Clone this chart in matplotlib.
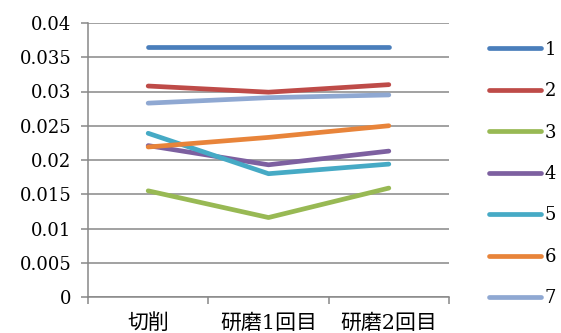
import matplotlib
matplotlib.use("Agg")
import matplotlib.pyplot as plt
from matplotlib.ticker import FixedLocator

categories = ["切削", "研磨1回目", "研磨2回目"]
series_names = ["1", "2", "3", "4", "5", "6", "7"]
s1 = [0.0365, 0.0365, 0.0365]
s2 = [0.0308, 0.0299, 0.0310]
s3 = [0.0155, 0.0116, 0.0159]
s4 = [0.0221, 0.0193, 0.0213]
s5 = [0.0239, 0.0180, 0.0194]
s6 = [0.0219, 0.0233, 0.0250]
s7 = [0.0283, 0.0291, 0.0295]
series = [s1, s2, s3, s4, s5, s6, s7]
colors = ["#4A7EBB", "#BE4B48", "#98B954", "#7D60A0", "#46AAC5", "#E8843A", "#8FA8D2"]
yticks = [0, 0.005, 0.01, 0.015, 0.02, 0.025, 0.03, 0.035, 0.04]
ytick_labels = ["0", "0.005", "0.01", "0.015", "0.02", "0.025", "0.03", "0.035", "0.04"]

plt.rcParams['font.family'] = ['DejaVu Serif', 'Noto Sans CJK JP']

fig = plt.figure(figsize=(5.61, 3.33), dpi=100)
ax = fig.add_axes([88/561, 1-297/333, (449-88)/561, (297-23)/333])

x = list(range(len(categories)))
for name, vals, c in zip(series_names, series, colors):
    ax.plot(x, vals, color=c, lw=3.4, solid_capstyle='round', label=name)

gray = "#888888"
ax.set_xlim(-0.5, 2.5)
ax.set_ylim(0, 0.04)
ax.set_yticks(yticks)
ax.set_yticklabels(ytick_labels, fontsize=13)
ax.yaxis.grid(True, color=gray, lw=1.1)
ax.set_axisbelow(True)
ax.set_xticks(x)
ax.set_xticklabels(categories, fontsize=15, family=['DejaVu Serif', 'Noto Sans CJK JP'])
ax.xaxis.set_minor_locator(FixedLocator([-0.5, 0.5, 1.5, 2.5]))
ax.tick_params(axis='x', which='major', length=0, pad=12)
ax.tick_params(axis='x', which='minor', length=5, color=gray, width=1.1)
ax.tick_params(axis='y', which='major', length=5, color=gray, width=1.1, pad=7)
for sp in ['top', 'right']:
    ax.spines[sp].set_visible(False)
for sp in ['left', 'bottom']:
    ax.spines[sp].set_color(gray)
    ax.spines[sp].set_linewidth(1.1)

leg = ax.legend(loc='center left', bbox_to_anchor=(489/561, 1-174/333),
                bbox_transform=fig.transFigure, frameon=False, fontsize=13,
                handlelength=2.9, handletextpad=0.2, labelspacing=1.3,
                borderpad=0, borderaxespad=0)

fig.savefig("out.png", dpi=100)
